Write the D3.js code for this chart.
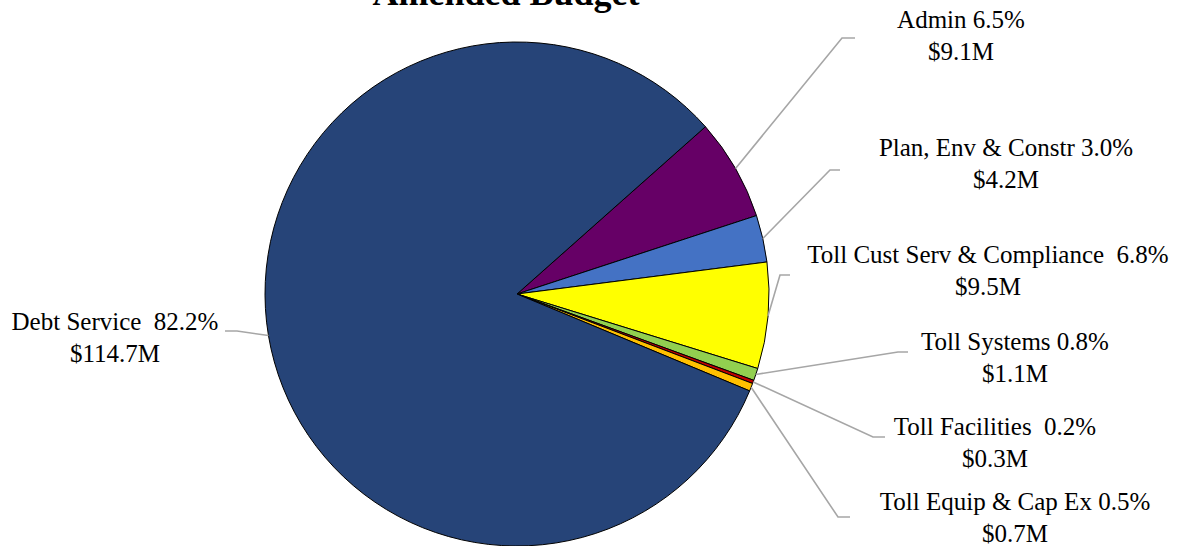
<!DOCTYPE html>
<html><head><meta charset="utf-8">
<script src="https://cdn.jsdelivr.net/npm/d3@7/dist/d3.min.js"></script>
<style>body{margin:0;background:#fff}svg{display:block}text{white-space:pre}</style>
</head><body>
<svg id="c" width="1194" height="546"></svg>
<script>
const categories = ["Admin","Plan, Env & Constr","Toll Cust Serv & Compliance ","Toll Systems","Toll Facilities ","Toll Equip & Cap Ex","Debt Service "];
const values = [9.1, 4.2, 9.5, 1.1, 0.3, 0.7, 114.7];
const pctLabels = ["6.5%","3.0%","6.8%","0.8%","0.2%","0.5%","82.2%"];
const amountLabels = ["$9.1M","$4.2M","$9.5M","$1.1M","$0.3M","$0.7M","$114.7M"];
const colors = ["#660066","#4472C4","#FFFF00","#92D050","#C00000","#FFC000","#264478"];
const title = "Amended Budget";
// label layout (centre x, first baseline y) and leader elbow
const labelPos = [[961,28],[1006,156],[988,263],[1015,350],[995,435],[1015,510],[115,330]];
const elbow = [[842,38,855],[830,170,840],[780,275,790],[898,352,908],[873,437,885],[838,517,850],[237,331,225]];

const svg = d3.select("#c");
const cx = 517, cy = 294, R = 252;
const startA = 48.4 * Math.PI/180;
const pie = d3.pie().sort(null).startAngle(startA).endAngle(startA + 2*Math.PI);
const arcs = pie(values);
const arc = d3.arc().innerRadius(0).outerRadius(R);
const g = svg.append("g").attr("transform",`translate(${cx},${cy})`);
g.selectAll("path").data(arcs).join("path")
  .attr("d", arc).attr("fill",(d,i)=>colors[i])
  .attr("stroke","#000").attr("stroke-width",1);

// leader lines
arcs.forEach((d,i)=>{
  const m = (d.startAngle + d.endAngle)/2;
  const px = cx + R*Math.sin(m), py = cy - R*Math.cos(m);
  const e = elbow[i];
  svg.append("polyline")
    .attr("points", `${px},${py} ${e[0]},${e[1]} ${e[2]},${e[1]}`)
    .attr("fill","none").attr("stroke","#A6A6A6").attr("stroke-width",1.6);
});

const font = "'Liberation Serif','Times New Roman',serif";
categories.forEach((c,i)=>{
  const t = svg.append("text").attr("font-family",font).attr("font-size",25)
    .attr("text-anchor","middle").attr("fill","#000");
  t.append("tspan").attr("x",labelPos[i][0]).attr("y",labelPos[i][1]).text(c + " " + pctLabels[i]);
  t.append("tspan").attr("x",labelPos[i][0]).attr("y",labelPos[i][1]+32).text(amountLabels[i]);
});

svg.append("text").attr("x",506).attr("y",5).attr("text-anchor","middle")
  .attr("font-family",font).attr("font-weight","bold").attr("font-size",36).text(title);
</script>
</body></html>
